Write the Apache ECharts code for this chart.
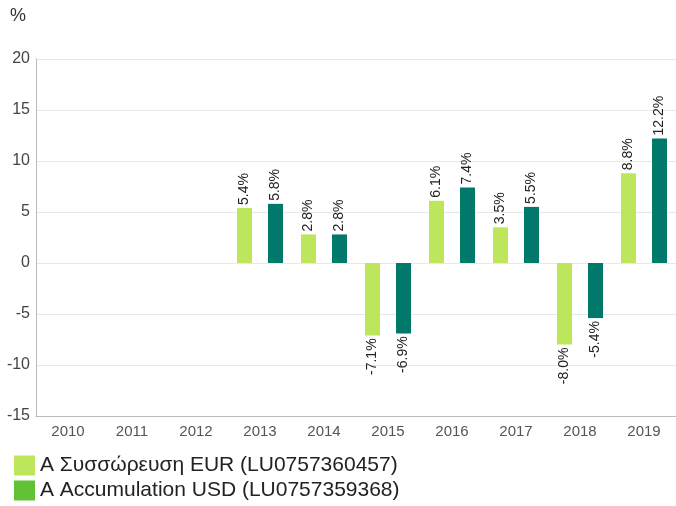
<!DOCTYPE html>
<html style="height: 100%">
<head>
<meta charset="utf-8">
<script src="https://cdn.jsdelivr.net/npm/echarts@6/dist/echarts.min.js"></script>
</head>
<body style="height: 100%; margin: 0; background: #fff;">
<div id="container" style="width: 676px; height: 506px;"></div>
<script type="text/javascript">
// data
var years = ['2010', '2011', '2012', '2013', '2014', '2015', '2016', '2017', '2018', '2019'];
var eurName = 'A Συσσώρευση EUR (LU0757360457)';
var usdName = 'A Accumulation USD (LU0757359368)';
var eurValues = [null, null, null, 5.4, 2.8, -7.1, 6.1, 3.5, -8.0, 8.8];
var usdValues = [null, null, null, 5.8, 2.8, -6.9, 7.4, 5.5, -5.4, 12.2];

function withLabels(arr) {
    return arr.map(function (v) {
        if (v === null) return null;
        return {
            value: v,
            label: v < 0
                ? { position: 'bottom', align: 'right' }
                : { position: 'top', align: 'left' }
        };
    });
}

var barLabel = {
    show: true,
    rotate: 90,
    verticalAlign: 'middle',
    distance: 3,
    fontSize: 14,
    color: '#222',
    fontFamily: 'Arial',
    formatter: function (p) { return p.value.toFixed(1) + '%'; }
};

var legendBase = {
    orient: 'vertical',
    left: 9,
    itemWidth: 21,
    itemHeight: 20,
    itemGap: 5,
    icon: 'rect',
    textStyle: { fontSize: 21, color: '#222', padding: [0, 0, 0, 0] }
};

var chart = echarts.init(document.getElementById('container'));
var option = {
    animation: false,
    textStyle: { fontFamily: 'Arial' },
    title: {
        text: '%',
        left: 5,
        top: 2,
        textStyle: { fontSize: 18, fontWeight: 'normal', color: '#333' }
    },
    grid: { left: 36, right: -4, top: 59, bottom: 90, containLabel: false },
    legend: [
        Object.assign({}, legendBase, {
            top: 450,
            data: [{ name: eurName, itemStyle: { color: '#bde65a' } }]
        }),
        Object.assign({}, legendBase, {
            top: 475,
            data: [{ name: usdName, itemStyle: { color: '#62c236' } }]
        })
    ],
    xAxis: {
        type: 'category',
        data: years,
        axisLine: { onZero: false, lineStyle: { color: '#bbb' } },
        axisTick: { show: false },
        axisLabel: { fontSize: 15, color: '#555', margin: 8 }
    },
    yAxis: {
        type: 'value',
        min: -15,
        max: 20,
        interval: 5,
        axisLine: { show: true, lineStyle: { color: '#bbb' } },
        axisTick: { show: false },
        axisLabel: { fontSize: 16, color: '#444', margin: 6 },
        splitLine: { lineStyle: { color: '#e8e8e8' } }
    },
    series: [
        {
            name: eurName,
            type: 'bar',
            barWidth: 15,
            barGap: '107%',
            itemStyle: { color: '#bde65a' },
            label: barLabel,
            data: withLabels(eurValues)
        },
        {
            name: usdName,
            type: 'bar',
            barWidth: 15,
            itemStyle: { color: '#00796a' },
            label: barLabel,
            data: withLabels(usdValues)
        }
    ]
};
chart.setOption(option);
</script>
</body>
</html>
